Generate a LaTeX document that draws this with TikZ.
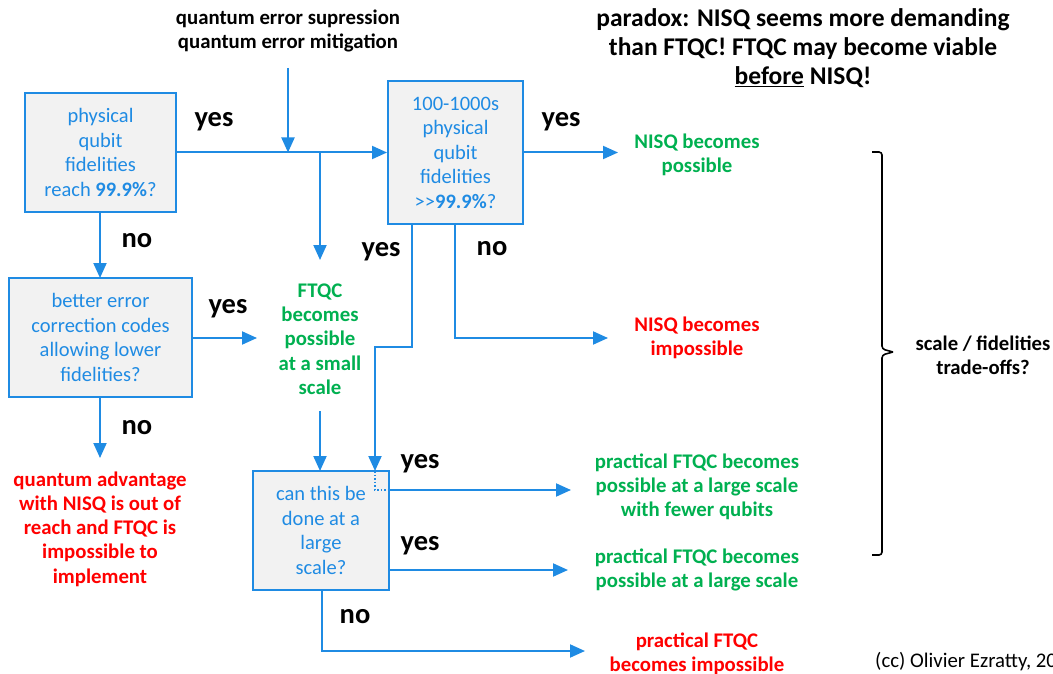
\documentclass[tikz,border=0pt]{standalone}
\usepackage{fontspec}
\setmainfont{Carlito}
\usetikzlibrary{arrows.meta}
\definecolor{qblue}{HTML}{1F8BE3}
\definecolor{qgreen}{HTML}{00B050}
\definecolor{qred}{HTML}{FF0000}
\definecolor{qfill}{HTML}{F2F2F2}
\begin{document}
\begin{tikzpicture}[x=1pt,y=-1pt,
  qbox/.style={draw=qblue, fill=qfill, line width=2pt, text=qblue, align=center, inner sep=0pt, font=\fontsize{20.5}{24.5}\selectfont},
  conn/.style={qblue, line width=2pt, -{Triangle[length=15pt,width=13pt]}},
  dotline/.style={qblue, line width=1.5pt, dotted},
  lbl/.style={font=\fontsize{28.5}{30}\selectfont\bfseries, inner sep=0pt},
  gtxt/.style={text=qgreen, font=\fontsize{20.8}{24.3}\selectfont\bfseries, align=center, inner sep=0pt},
  rtxt/.style={text=qred, font=\fontsize{20.8}{24.3}\selectfont\bfseries, align=center, inner sep=0pt},
  btxt/.style={text=black, font=\fontsize{20.7}{24}\selectfont\bfseries, align=center, inner sep=0pt}]
\useasboundingbox (0,0) rectangle (1053,674);

% boxes
\node[qbox, minimum width=151, minimum height=119] (b1) at (100.5,152.5) {physical\\qubit\\fidelities\\reach \textbf{99.9\%}?};
\node[qbox, minimum width=135, minimum height=143] (b2) at (455.5,152.5) {100-1000s\\physical\\qubit\\fidelities\\>\kern0pt>\textbf{99.9\%}?};
\node[qbox, minimum width=183, minimum height=119] (b3) at (100.5,337.5) {better error\\correction codes\\allowing lower\\fidelities?};
\node[qbox, minimum width=136, minimum height=119] (b4) at (321,530.5) {can this be\\done at a\\large\\scale?};

% texts
\node[btxt, font=\fontsize{20.8}{24}\selectfont\bfseries] (top) at (288,31) {quantum error supression\\quantum error mitigation};
\node[btxt, font=\fontsize{25.5}{29}\selectfont\bfseries] (title) at (803,48) {paradox: NISQ seems more demanding\\than FTQC! FTQC may become viable\\\underline{before} NISQ!};
\node[gtxt] (nisqp) at (697,155) {NISQ becomes\\possible};
\node[rtxt] (nisqi) at (697,338) {NISQ becomes\\impossible};
\node[gtxt] (ftqc) at (320,339) {FTQC\\becomes\\possible\\at a small\\scale};
\node[rtxt] (qadv) at (100,529) {quantum advantage\\with NISQ is out of\\reach and FTQC is\\impossible to\\implement};
\node[gtxt] (pf1) at (697,487) {practical FTQC becomes\\possible at a large scale\\with fewer qubits};
\node[gtxt] (pf2) at (697,570) {practical FTQC becomes\\possible at a large scale};
\node[rtxt] (pfi) at (697,654) {practical FTQC\\becomes impossible};
\node[btxt] (trade) at (983,355) {scale / fidelities\\trade-offs?};
\node[anchor=base west, inner sep=0pt, font=\fontsize{20.8}{24}\selectfont] (cc) at (875,667) {(cc) Olivier Ezratty, 20};

% yes / no labels
\node[lbl] (y1) at (214,122) {yes};
\node[lbl] (y2) at (561,122) {yes};
\node[lbl] (y3) at (381,252) {yes};
\node[lbl] (y4) at (228,309) {yes};
\node[lbl] (y5) at (420,464) {yes};
\node[lbl] (y6) at (420,546) {yes};
\node[lbl] (n1) at (137,241) {no};
\node[lbl] (n2) at (492,249) {no};
\node[lbl] (n3) at (137,428) {no};
\node[lbl] (n4) at (355,617) {no};

% coordinates
\coordinate (topS) at (288,68);
\coordinate (j1) at (288,152.5);
\coordinate (j2) at (320,152.5);
\coordinate (ftqcT) at (320,260);
\coordinate (ftqcB) at (320,411);
\coordinate (nisqpT) at (618,152.5);
\coordinate (b2no) at (455,224);
\coordinate (b2noC) at (455,338);
\coordinate (nisqiT) at (608,338);
\coordinate (b2yes) at (412,224);
\coordinate (b2yesC1) at (412,347);
\coordinate (b2yesC2) at (375,347);
\coordinate (b4in) at (375,471);
\coordinate (dotC) at (375,490);
\coordinate (dotE) at (389,490);
\coordinate (pf1T) at (571,490);
\coordinate (b4r2) at (389,570);
\coordinate (pf2T) at (568,570);
\coordinate (b4b) at (322,590);
\coordinate (b4bC) at (322,651);
\coordinate (pfiT) at (585,651);
\coordinate (b1b) at (100,212);
\coordinate (b3t) at (100,278);
\coordinate (b3r) at (192,338);
\coordinate (ftqcL) at (257,338);
\coordinate (b3b) at (100,397);
\coordinate (qadvT) at (100,458);
\coordinate (ftqcIn) at (320,471);

% connectors
\draw[conn] (topS) -- (j1);
\draw[conn] (b1.east) -- (b2.west);
\draw[conn] (j2) -- (ftqcT);
\draw[conn] (b2.east) -- (nisqpT);
\draw[conn] (b2no) -- (b2noC) -- (nisqiT);
\draw[conn] (b2yes) -- (b2yesC1) -- (b2yesC2) -- (b4in);
\draw[conn] (b1b) -- (b3t);
\draw[conn] (b3r) -- (ftqcL);
\draw[conn] (b3b) -- (qadvT);
\draw[conn] (ftqcB) -- (ftqcIn);
\draw[dotline] (b4in) -- (dotC) -- (dotE);
\draw[conn] (dotE) -- (pf1T);
\draw[conn] (b4r2) -- (pf2T);
\draw[conn] (b4b) -- (b4bC) -- (pfiT);

% brace
\draw[black, line width=1.6pt, rounded corners=3pt] (872,152) -- (882,152) -- (882,349) -- (893,352);
\draw[black, line width=1.6pt, rounded corners=3pt] (893,352) -- (882,355) -- (882,555) -- (872,555);
\end{tikzpicture}
\end{document}
